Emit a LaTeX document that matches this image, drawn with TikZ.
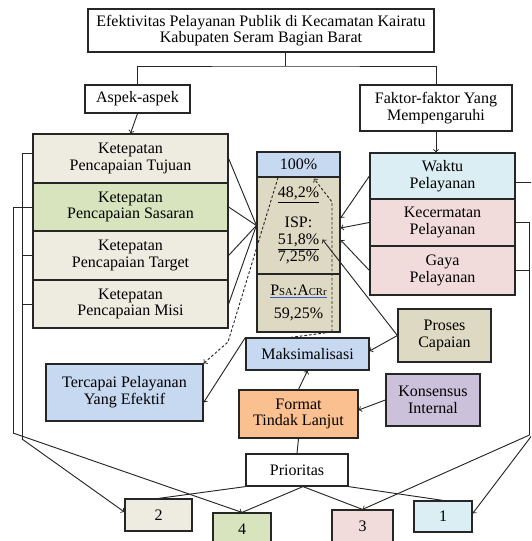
\documentclass[tikz,border=0pt]{standalone}
\usepackage{fontspec}
\setmainfont{Liberation Serif}
\usetikzlibrary{calc}
\newlength\pxu
\setlength\pxu{0.75pt}
\definecolor{tanbg}{RGB}{238,236,225}
\definecolor{olivebg}{RGB}{215,228,189}
\definecolor{khakibg}{RGB}{221,217,195}
\definecolor{bluebg}{RGB}{198,217,241}
\definecolor{aquabg}{RGB}{219,238,244}
\definecolor{pinkbg}{RGB}{242,220,219}
\definecolor{orangebg}{RGB}{250,192,144}
\definecolor{lilacbg}{RGB}{204,193,218}
\definecolor{ulblue}{RGB}{60,90,200}

\begin{document}
\begin{tikzpicture}[x=0.75pt, y=-0.75pt,
    box/.style={draw=black!85, line width=0.9pt, align=center, inner sep=0pt,
        font=\fontsize{12}{12.5}\selectfont},
    link/.style={draw=black!85, line width=0.7pt},
    hint/.style={link, dash pattern=on 2pt off 1.5pt}]
    \clip (0,0) rectangle (531,541);

    % top of the tree
    \node[box, fill=white, minimum width=346\pxu, minimum height=43\pxu] (title) at (261,30.5)
        {Efektivitas Pelayanan Publik di Kecamatan Kairatu\\Kabupaten Seram Bagian Barat};
    \node[box, fill=white, minimum width=105\pxu, minimum height=28\pxu] (aspek) at (137.5,99) {Aspek-aspek};
    \node[box, fill=white, minimum width=152\pxu, minimum height=46\pxu] (faktor) at (436,108)
        {Faktor-faktor Yang\\Mempengaruhi};

    % aspects on the left
    \node[box, fill=tanbg, minimum width=195\pxu, minimum height=49\pxu] (tujuan) at (130.5,158.5)
        {Ketepatan\\Pencapaian Tujuan};
    \node[box, fill=olivebg, minimum width=195\pxu, minimum height=48\pxu] (sasaran) at (130.5,207)
        {Ketepatan\\Pencapaian Sasaran};
    \node[box, fill=tanbg, minimum width=195\pxu, minimum height=49\pxu] (target) at (130.5,255.5)
        {Ketepatan\\Pencapaian Target};
    \node[box, fill=tanbg, minimum width=195\pxu, minimum height=48\pxu] (misi) at (130.5,304)
        {Ketepatan\\Pencapaian Misi};

    % result column
    \node[box, fill=bluebg, minimum width=83\pxu, minimum height=25\pxu] (pct) at (298.5,164.5) {100\%};
    \node[box, fill=khakibg, minimum width=83\pxu, minimum height=97\pxu] (isp) at (298.5,225.5)
        {\underline{48,2\%}\\[10pt]ISP:\\\underline{51,8\%}\\7,25\%};
    \node[box, fill=khakibg, minimum width=83\pxu, minimum height=58\pxu] (psa) at (298.5,303)
        {{\color{ulblue}\underline{\color{black}P{\footnotesize SA}:A{\footnotesize CRr}}}\\[5pt]59,25\%};

    % factors on the right
    \node[box, fill=aquabg, minimum width=145\pxu, minimum height=46\pxu] (waktu) at (442.5,176)
        {Waktu\\Pelayanan};
    \node[box, fill=pinkbg, minimum width=145\pxu, minimum height=47\pxu] (kecermatan) at (442.5,222.5)
        {Kecermatan\\Pelayanan};
    \node[box, fill=pinkbg, minimum width=145\pxu, minimum height=49\pxu] (gaya) at (442.5,270.5)
        {Gaya\\Pelayanan};

    \node[box, fill=khakibg, minimum width=93\pxu, minimum height=53\pxu] (proses) at (444.5,335.5)
        {Proses\\Capaian};
    \node[box, fill=lilacbg, minimum width=94\pxu, minimum height=52\pxu] (konsensus) at (433,400)
        {Konsensus\\Internal};
    \node[box, fill=bluebg, minimum width=123\pxu, minimum height=32\pxu] (maks) at (307.5,354) {Maksimalisasi};
    \node[box, fill=orangebg, minimum width=119\pxu, minimum height=48\pxu] (format) at (298.5,414)
        {Format\\Tindak Lanjut};
    \node[box, fill=bluebg, minimum width=157\pxu, minimum height=57\pxu] (tercapai) at (124.5,392.5)
        {Tercapai Pelayanan\\Yang Efektif};

    % priorities
    \node[box, fill=white, minimum width=102\pxu, minimum height=32\pxu] (prioritas) at (297,470) {Prioritas};
    \node[box, fill=tanbg, minimum width=67\pxu, minimum height=32\pxu] (two) at (158.5,515) {2};
    \node[box, fill=olivebg, minimum width=58\pxu, minimum height=32\pxu] (four) at (242,529) {4};
    \node[box, fill=pinkbg, minimum width=61\pxu, minimum height=32\pxu] (three) at (362.5,526) {3};
    \node[box, fill=aquabg, minimum width=58\pxu, minimum height=31\pxu] (one) at (443,516.5) {1};

    \coordinate (split) at (285,66);
    \draw[link] (title.south -| split) -- (split);
    \draw[link] (aspek.north) |- (split) -| (faktor.north);
    \draw[link, ->] (aspek.south) -- (tujuan.north);
    \draw[link, ->] (faktor.south) -- (faktor.south |- waktu.north);

    % into the result column
    \draw[link] (tujuan.east) -- (isp.west);
    \draw[link] (sasaran.east) -- (isp.west);
    \draw[link] (target.east) -- (isp.west);
    \draw[link] (misi.east) -- (isp.west);
    \draw[link, ->] (waktu.west) -- ($(isp.east)+(0,-7.5)$);
    \draw[link, ->] (kecermatan.west) -- ($(isp.east)+(0,2.5)$);
    \draw[link, ->] (gaya.west) -- ($(isp.east)+(0,14.5)$);
    \draw[link, ->] (proses.west) -- ($(isp.center)+(24,14)$);

    \draw[link, ->] (proses.west) -- ($(maks.east)+(0,-3)$);
    \draw[link, ->] (konsensus.west) -- ($(format.east)+(0,-4)$);
    \draw[link, ->] (format.north) -- (maks.south);
    \draw[link, ->] (maks.north west) -- ($(tercapai.east)+(0,10)$);

    % dashed feedback
    \coordinate (dropA) at (228,342);
    \draw[hint, ->] ($(pct.south)+(-20.5,0)$) -- (dropA) -- (tercapai.north east);
    \coordinate (riseA) at (332,332);
    \coordinate (riseB) at (332,202);
    \draw[hint, ->] ($(maks.north)+(-17,0)$) -- (riseA) -- (riseB) -- ($(pct.south)+(15.5,1)$);

    % left brackets
    \coordinate (inner) at (22,439);
    \coordinate (outer) at (13,433);
    \draw[link] ($(tujuan.west)+(0,-5)$) -| (inner);
    \draw[link] (target.west) -- (target.west -| inner);
    \draw[link] (misi.west) -- (misi.west -| inner);
    \draw[link] (sasaran.west) -| (outer);
    \draw[link, ->] (inner) -- ($(two.west)+(0,-3)$);
    \draw[link, ->] (outer) -- (four.north);

    % right brackets
    \coordinate (rside) at (529.5,435);
    \coordinate (wside) at (536,430);
    \draw[link] (kecermatan.east) -| (rside);
    \draw[link] (gaya.east) -- (gaya.east -| rside);
    \draw[link, ->] (rside) -- (three.north);
    \draw[link] ($(waktu.east)+(0,6)$) -| (wside);
    \draw[link, ->] (wside) -- ($(one.east)+(0,-3)$);

    % priorities
    \draw[link] (format.south) -- (prioritas.north);
    \draw[link] (prioritas.south west) -- (two.north);
    \draw[link] ($(prioritas.south)+(6,0)$) -- (four.north);
    \draw[link] ($(prioritas.south)+(6,0)$) -- (three.north);
    \draw[link] (prioritas.south east) -- (one.north);
\end{tikzpicture}
\end{document}
